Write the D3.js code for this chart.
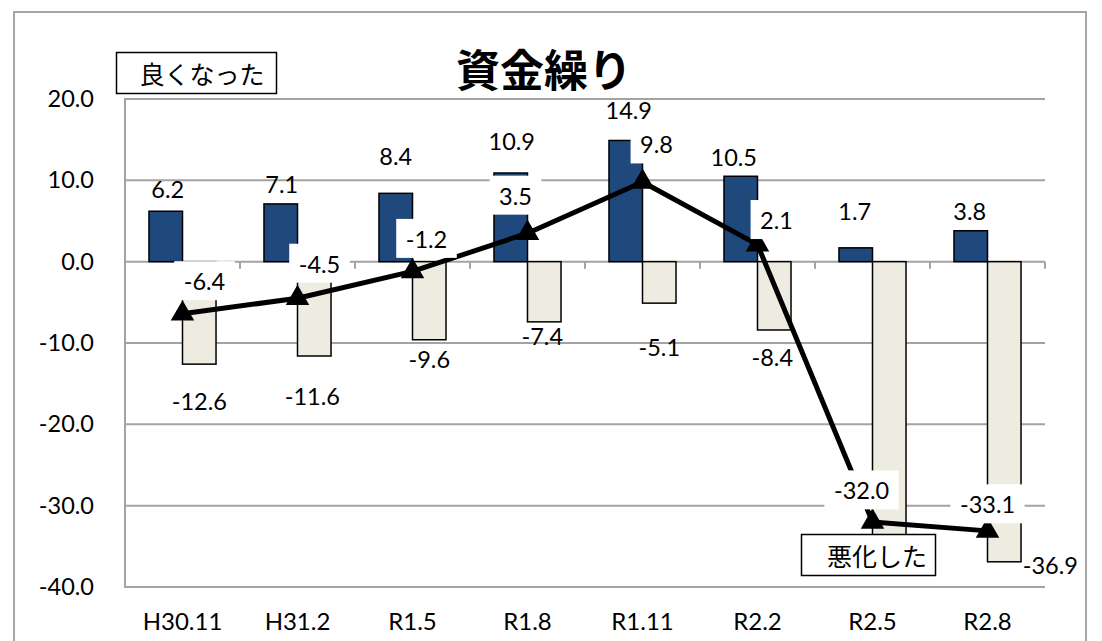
<!DOCTYPE html>
<html>
<head>
<meta charset="utf-8">
<script src="https://cdn.jsdelivr.net/npm/d3@7"></script>
<style>
  html, body { margin: 0; padding: 0; background: #fff; }
  svg { display: block; }
</style>
</head>
<body>
<svg id="chart" width="1102" height="641"></svg>
<script>
// ---- data ----
const categories = ["H30.11", "H31.2", "R1.5", "R1.8", "R1.11", "R2.2", "R2.5", "R2.8"];
const improved   = [6.2, 7.1, 8.4, 10.9, 14.9, 10.5, 1.7, 3.8];        // 良くなった
const worsened   = [-12.6, -11.6, -9.6, -7.4, -5.1, -8.4, -35.0, -36.9]; // 悪化した
const diffusion  = [-6.4, -4.5, -1.2, 3.5, 9.8, 2.1, -32.0, -33.1];    // DI
const yTicks     = [20, 10, 0, -10, -20, -30, -40];
const titleText  = "資金繰り";
const goodLabel  = "良くなった";
const badLabel   = "悪化した";

// ---- label nudges (layout, in px, relative to the data point) ----
const improvedOffsets = [[2,-22],[1,-19],[0,-37],[1,-31],[3,-30],[-7,-19],[-1,-36],[-1,-19]];
const worsenedOffsets = [[0,37],[-2,41],[0,20],[-2,15],[0,44],[-2,28],[-10,20],[46,4]];
const diffusionOffsets = [[22,-32],[22,-34],[14,-32],[-12,-37],[14,-37],[19,-24],[-11,-31],[0,-26]];

// ---- layout ----
const svg = d3.select("#chart");
const W = 1102, H = 641;
const plot = { left: 125, right: 1045, top: 99, bottom: 587 };
const latin = "Lato, 'Open Sans', sans-serif";
const cjk = "'Noto Sans CJK JP', 'Noto Sans', sans-serif";
const labelSize = 23.5;
const capShift = labelSize * 0.36;
const gridColor = "#a3a3a3";
const blue = "#1f497d";
const beige = "#eeece1";

svg.append("rect").attr("width", W).attr("height", H).attr("fill", "#fff");
// outer chart border
svg.append("rect")
  .attr("x", 14).attr("y", 12).attr("width", 1072).attr("height", 700)
  .attr("fill", "none").attr("stroke", "#a6a6a6").attr("stroke-width", 2);

const x = d3.scaleBand().domain(categories)
  .range([plot.left, plot.right]).paddingInner(0.417).paddingOuter(0.2085);
const x1 = d3.scaleBand().domain(["improved", "worsened"]).range([0, x.bandwidth()]);
const y = d3.scaleLinear().domain([-40, 20]).range([plot.bottom, plot.top]);

// gridlines
svg.append("g").selectAll("line").data(yTicks).join("line")
  .attr("x1", plot.left).attr("x2", plot.right)
  .attr("y1", d => y(d)).attr("y2", d => y(d))
  .attr("stroke", gridColor).attr("stroke-width", 2);

// vertical axis line
svg.append("line")
  .attr("x1", plot.left).attr("x2", plot.left)
  .attr("y1", y(20) - 1).attr("y2", y(-40) + 1)
  .attr("stroke", gridColor).attr("stroke-width", 2);

// tick marks on zero line (between categories)
svg.append("g").selectAll("line").data(categories).join("line")
  .attr("x1", d => x(d) + x.bandwidth() + (x.step() - x.bandwidth()) / 2)
  .attr("x2", d => x(d) + x.bandwidth() + (x.step() - x.bandwidth()) / 2)
  .attr("y1", y(0)).attr("y2", y(0) + 7)
  .attr("stroke", gridColor).attr("stroke-width", 2);

// y axis labels
const yAxis = svg.append("g")
  .attr("transform", `translate(${plot.left},0)`)
  .call(d3.axisLeft(y).tickValues(yTicks).tickFormat(d => d.toFixed(1)).tickSize(0).tickPadding(31));
yAxis.select(".domain").remove();
yAxis.selectAll("text").attr("font-family", latin).attr("font-size", 23.5).attr("fill", "#000");

// x axis labels
const xAxis = svg.append("g")
  .attr("transform", `translate(0,${plot.bottom})`)
  .call(d3.axisBottom(x).tickSize(0).tickPadding(26));
xAxis.select(".domain").remove();
xAxis.selectAll("text").attr("font-family", latin).attr("font-size", 24).attr("fill", "#000");

// bars
const groups = svg.append("g").selectAll("g").data(categories).join("g")
  .attr("transform", d => `translate(${x(d)},0)`);
groups.append("rect")
  .attr("x", x1("improved")).attr("width", x1.bandwidth())
  .attr("y", (d, i) => y(improved[i])).attr("height", (d, i) => y(0) - y(improved[i]))
  .attr("fill", blue).attr("stroke", "#000").attr("stroke-width", 1.5);
groups.append("rect")
  .attr("x", x1("worsened")).attr("width", x1.bandwidth())
  .attr("y", y(0)).attr("height", (d, i) => y(worsened[i]) - y(0))
  .attr("fill", beige).attr("stroke", "#000").attr("stroke-width", 1.5);

// line
const cx = d => x(d) + x.bandwidth() / 2;
const line = d3.line().x((v, i) => cx(categories[i])).y(v => y(v));
svg.append("path").datum(diffusion)
  .attr("d", line).attr("fill", "none").attr("stroke", "#000")
  .attr("stroke-width", 5).attr("stroke-linejoin", "round");
svg.append("g").selectAll("path").data(diffusion).join("path")
  .attr("d", d3.symbol(d3.symbolTriangle, 240)())
  .attr("transform", (v, i) => `translate(${cx(categories[i])},${y(v)})`)
  .attr("fill", "#000");

// bar labels (no background)
const barLabels = svg.append("g").attr("font-family", latin).attr("font-size", labelSize)
  .attr("text-anchor", "middle").attr("fill", "#000");
categories.forEach((c, i) => {
  const bx = x(c) + x1("improved") + x1.bandwidth() / 2;
  barLabels.append("text")
    .attr("x", bx + improvedOffsets[i][0])
    .attr("y", y(improved[i]) + improvedOffsets[i][1] + capShift)
    .text(improved[i].toFixed(1));
  const wx = x(c) + x1("worsened") + x1.bandwidth() / 2;
  barLabels.append("text")
    .attr("x", wx + worsenedOffsets[i][0])
    .attr("y", y(worsened[i]) + worsenedOffsets[i][1] + capShift)
    .text(worsened[i].toFixed(1));
});

// line labels with white background
const lineLabels = svg.append("g").attr("font-family", latin).attr("font-size", labelSize)
  .attr("text-anchor", "middle");
diffusion.forEach((v, i) => {
  const g = lineLabels.append("g");
  const t = g.append("text")
    .attr("x", cx(categories[i]) + diffusionOffsets[i][0])
    .attr("y", y(v) + diffusionOffsets[i][1] + capShift)
    .attr("fill", "#000")
    .text(v.toFixed(1));
  const bb = t.node().getBBox();
  g.insert("rect", "text")
    .attr("x", bb.x - 9.5).attr("y", bb.y - 6)
    .attr("width", bb.width + 19).attr("height", bb.height + 11)
    .attr("fill", "#fff");
});

// text boxes
function textBox(bx, by, bw, bh, tx, label) {
  svg.append("rect").attr("x", bx).attr("y", by).attr("width", bw).attr("height", bh)
    .attr("fill", "#fff").attr("stroke", "#000").attr("stroke-width", 1.5);
  svg.append("text").attr("x", tx).attr("y", by + bh / 2)
    .attr("dominant-baseline", "central").attr("text-anchor", "middle")
    .attr("font-family", cjk).attr("font-size", 25).attr("fill", "#000")
    .text(label);
}
textBox(116.5, 52.5, 160, 41, 202, goodLabel);
textBox(801.5, 534.5, 134, 41, 877, badLabel);

// title
svg.append("text").attr("x", 544).attr("y", 68)
  .attr("dominant-baseline", "central").attr("text-anchor", "middle")
  .attr("font-family", cjk).attr("font-weight", "bold").attr("font-size", 44)
  .attr("fill", "#000").text(titleText);
</script>
</body>
</html>
